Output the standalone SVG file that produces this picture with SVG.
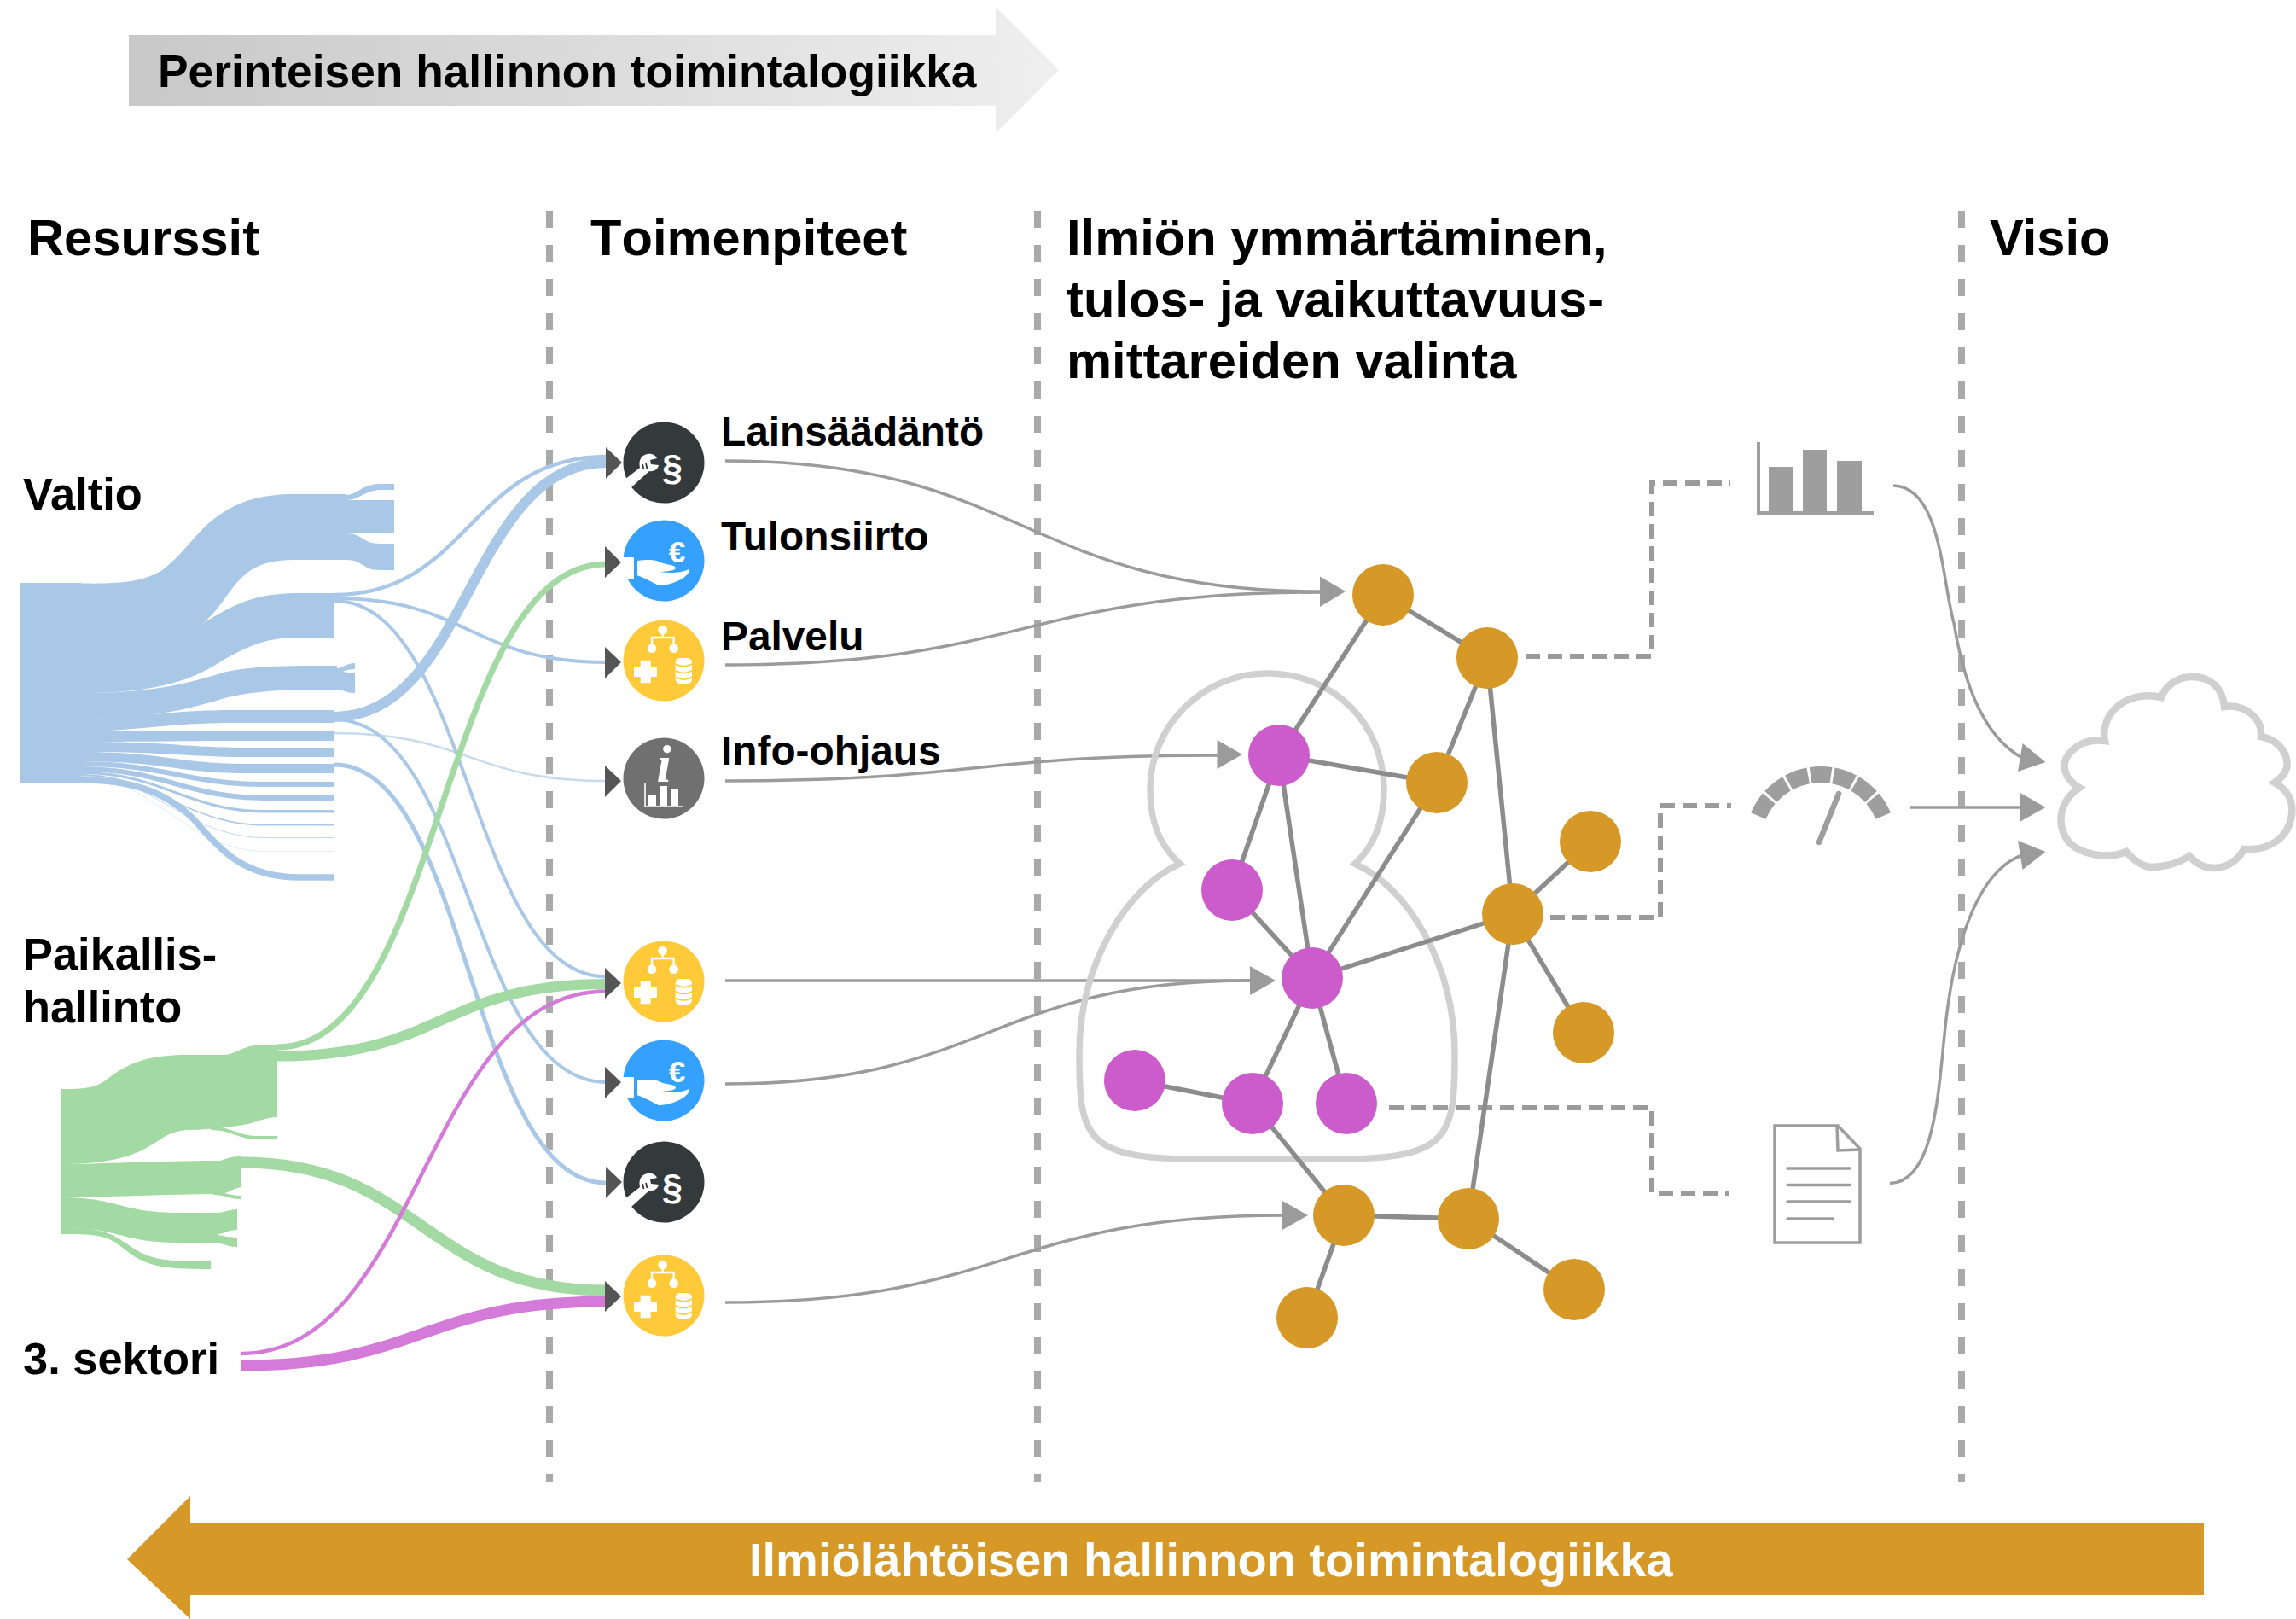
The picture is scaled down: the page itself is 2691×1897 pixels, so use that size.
<svg xmlns="http://www.w3.org/2000/svg" width="2691" height="1897" viewBox="0 0 2691 1897">
<style>
text{font-family:"Liberation Sans",Arial,sans-serif;font-weight:700;fill:#000}
.h{font-size:59.7px}.s{font-size:52.4px}.l{font-size:47.8px}
.vd{fill:none;stroke:#a9a9a9;stroke-width:8;stroke-dasharray:20 20}
.ds{fill:none;stroke:#9b9b9b;stroke-width:6;stroke-dasharray:17 9}
.b{fill:#a9c8e7}.g{fill:#a3d9a2}
.lk{fill:none}
.lb{stroke:#a9c8e7}.lg{stroke:#a3d9a2}.lp{stroke:#d47ad8}
.c{fill:none;stroke:#9b9b9b;stroke-width:3.5}
.ah{fill:#9b9b9b}.dk{fill:#555}
.e{stroke:#8c8c8c;stroke-width:5.5;fill:none}
.o{fill:#d69826}.m{fill:#cc5bcc}
.w{fill:#fff}.wl{stroke:#fff;fill:none}
.ic{fill:#9e9e9e}
</style>
<defs>
<linearGradient id="gr" x1="0" x2="1" y1="0" y2="0"><stop offset="0" stop-color="#c8c8c8"/><stop offset="1" stop-color="#efefef"/></linearGradient>
<g id="law">
<circle r="47.5" fill="#343a3c"/>
<path class="w" d="M-46,20 L-28,6 C-30,-3 -26,-9 -19,-10 C-14,-11 -10,-9 -8,-5 L-16,-3 L-15,2 L-6,3 C-7,8 -12,11 -17,10 L-38,29 Z"/>
<path d="M-25,2 l1.5,6 M-21,1 l1.5,6" stroke="#343a3c" stroke-width="1.8" fill="none"/>
<text x="10" y="20" text-anchor="middle" style="font-size:43px;fill:#fff">§</text>
</g>
<g id="money">
<circle r="47.5" fill="#35a1ff"/>
<rect x="-48" y="-4" width="13" height="25" class="w"/>
<g transform="scale(.3333) translate(-263,-530)">
<path class="w" d="M170,530 C200,525 230,525 250,535 C270,545 300,542 305,555 C305,567 270,567 250,570 C290,575 330,572 350,560 C356,575 335,590 315,600 C290,612 265,618 245,617 C220,605 195,590 170,582 Z"/>
</g>
<text x="15.5" y="1.5" text-anchor="middle" style="font-size:35px;fill:#fff">€</text>
</g>
<g id="serv">
<circle r="47.5" fill="#ffca3a"/>
<g transform="scale(.3333) translate(-263,-883)">
<circle class="w" cx="259" cy="775" r="16"/><circle class="w" cx="221" cy="840" r="16"/><circle class="w" cx="298" cy="840" r="16"/>
<path class="wl" stroke-width="7" d="M259,775 V802 M221,840 V802 H298 V840"/>
<path class="w" d="M181,882 H217 V904 H239 V940 H217 V962 H181 V940 H158 V904 H181 Z"/>
<rect class="w" x="304" y="874" width="58" height="90" rx="16"/>
<path d="M304,895 Q333,912 362,895 M304,918 Q333,935 362,918 M304,941 Q333,958 362,941" stroke="#ffca3a" stroke-width="5" fill="none"/>
</g>
</g>
</defs>

<g id="top-arrow"><path fill="url(#gr)" d="M151,41 H1167 V8 L1241,82 L1167,156 V124 H151 Z"/><text x="185" y="102" style="font-size:53.3px">Perinteisen hallinnon toimintalogiikka</text></g>
<g id="bottom-arrow"><path fill="#d69826" d="M2583,1785 V1869 H223 V1897 L149,1827 L223,1753 V1785 Z"/><text x="878" y="1847" style="font-size:56px;fill:#fff">Ilmiölähtöisen hallinnon toimintalogiikka</text></g>

<g id="headers">
<text class="h" x="32" y="299">Resurssit</text>
<text class="h" x="692" y="299" style="font-kerning:none">Toimenpiteet</text>
<text class="h" x="1250" y="299">Ilmiön ymmärtäminen,</text>
<text class="h" x="1250" y="371">tulos- ja vaikuttavuus-</text>
<text class="h" x="1250" y="443">mittareiden valinta</text>
<text class="h" x="2332" y="299">Visio</text>
<text class="s" x="27" y="597">Valtio</text>
<text class="s" x="27" y="1136">Paikallis-</text>
<text class="s" x="27" y="1198">hallinto</text>
<text class="s" x="27" y="1610">3. sektori</text>
</g>

<g id="dividers">
<path class="vd" d="M644,247 V1737"/><path class="vd" d="M1216,247 V1737"/><path class="vd" d="M2299,247 V1737"/>
</g>

<g id="sankey-valtio" class="b">
<path d="M24,683 H95 V918 H24 Z"/>
<path d="M95,683.5 C130,684 165,684 190,668 C215,650 232,620 255,605 C280,586 310,579 345,579 H406 V656 H345 C300,656 285,672 268,695 C245,728 225,746 195,753 C165,760 130,760 95,760 Z"/>
<path d="M406,580 C418,580 425,567 445,567 H462 V574 H445 C430,574 420,586 406,586 Z"/>
<rect x="400" y="586" width="62" height="39"/>
<path d="M406,625 C425,625 425,637 445,637 H462 V668 H445 C425,668 425,656 406,656 Z"/>
<path d="M95,760.5 C190,760 215,745 250,723 C285,703 305,695 356,695 H391.6 V747 H350 C310,747 290,758 262,773 C225,798 180,812 95,812 Z"/>
<path d="M95,812 C170,812 215,803 263,787.5 C300,780 330,780 395,780 V808 C340,808 305,808 263,818 C215,833 170,842 95,842 Z"/>
<path d="M395,783 C403,783 405,777 416,777 V784 C405,784 403,788 395,788 Z"/>
<path d="M395,784 C403,788 405,788 416,788 V812 C405,812 403,808 395,808 Z"/>
<path d="M95,842 C150,842 200,832 270,832 H391.6 V847 H270 C200,847 150,857 95,857 Z"/>
<path d="M95,857 C200,857 210,856 270,856 H391.6 V868 H270 C210,868 200,869 95,869 Z"/>
<path d="M95,869 C200,869 220,876 290,876 H391.6 V887 H290 C220,887 200,881 95,881 Z"/>
<path d="M95,881 C190,881 210,895 290,895 H391.6 V906 H290 C210,906 190,892 95,892 Z"/>
<path d="M95,892 C190,892 220,916 310,916 H391.6 V922 H310 C220,922 190,898 95,898 Z"/>
<path d="M95,898 C190,898 220,932 310,932 H391.6 V938 H310 C220,938 190,904 95,904 Z"/>
<path d="M95,904 C190,904 220,949 310,949 H391.6 V952.4 H310 C220,952.4 190,907 95,907 Z"/>
<path d="M95,907 C180,907 220,966 310,966 H391.6 V967.5 H310 C220,967.5 180,909 95,909 Z"/>
<path opacity=".7" d="M95,909 C180,909 220,981 310,981 H391.6 V982 H310 C220,982 180,910 95,910 Z"/>
<path opacity=".35" d="M95,910 C180,910 220,997 310,997 H391.6 V998 H310 C220,998 180,911 95,911 Z"/>
<path opacity=".15" d="M95,911 C180,911 220,1013 310,1013 H391.6 V1014 H310 C220,1014 180,911 95,911 Z"/>
<path fill="none" stroke="#a9c8e7" stroke-width="7.5" d="M95,914 C150,914 190,925 225,958 C255,990 280,1028 351,1028 H391.6"/>
</g>

<g id="sankey-paikallis" class="g">
<path d="M71,1276 C95,1276 110,1276 125,1265 C150,1245 175,1236 219,1236 H263 C275,1236 285,1224.5 305,1224.5 H325 V1309 C310,1309 300,1316 285,1318 C260,1322 235,1324 219,1324 C195,1326 190,1336 165,1348.5 C140,1360 110,1364 71,1364 Z"/>
<path d="M247,1320 C270,1320 280,1331 300,1331 H325 V1335 H300 C280,1335 270,1324 247,1324 Z"/>
<path d="M71,1364 C120,1364 180,1360 258,1360 C265,1358 270,1355 282,1355 V1391 C270,1394 265,1399 258,1399 C200,1399 120,1403 71,1403 Z"/>
<path d="M250,1397 C265,1397 270,1401 282,1401 V1405 C270,1405 265,1400 250,1400 Z"/>
<path d="M71,1403 C140,1403 140,1421 210,1421 H255 C262,1421 268,1417 278,1417 V1441 C268,1441 262,1446 255,1446 V1456 H210 C140,1456 140,1438 71,1438 Z"/>
<path d="M250,1447 C262,1447 265,1450 278,1450 V1461 C265,1461 262,1456 250,1456 Z"/>
<path d="M71,1438 C120,1438 130,1445 150,1458 C175,1478 200,1478 247,1478 V1487 C190,1487 170,1484 145,1463 C125,1446 110,1446 71,1446 Z"/>
</g>

<g id="connectors" class="lk">
<path class="lk lb" stroke-width="4.5" d="M391.6,697 C550,697 550,535 711,535"/>
<path class="lk lb" stroke-width="12" d="M391.6,840 C550,840 550,542 711,542"/>
<path class="lk lb" stroke-width="4" d="M391.6,701 C550,701 550,776 711,776"/>
<path class="lk lb" stroke-width="2.5" stroke-opacity=".65" d="M391.6,859 C550,859 550,915 711,915"/>
<path class="lk lb" stroke-width="4" d="M391.6,704 C550,704 550,1144.5 711,1144.5"/>
<path class="lk lb" stroke-width="4" d="M391.6,843 C550,843 550,1268 711,1268"/>
<path class="lk lb" stroke-width="5" d="M391.6,896 C550,896 550,1386 711,1386"/>
<path class="lk lg" stroke-width="7" d="M325,1227 C520,1227 515,661 711,661"/>
<path class="lk lg" stroke-width="12" d="M325,1237.5 C520,1237.5 515,1153 711,1153"/>
<path class="lk lg" stroke-width="13" d="M282,1362 C495,1362 495,1512 711,1512"/>
<path class="lk lp" stroke-width="4.5" d="M282,1586 C495,1586 495,1161.5 711,1161.5"/>
<path class="lk lp" stroke-width="13" d="M282,1600 C495,1600 495,1525 711,1525"/>
<path class="c" d="M850,540 C1200,540 1200,693 1547,693"/>
<path class="c" d="M850,779 C1200,779 1200,694 1547,694"/>
<path class="c" d="M850,915 C1140,915 1140,885 1427,885"/>
<path class="c" d="M850,1149 H1465"/>
<path class="c" d="M850,1270 C1160,1270 1160,1149 1465,1149"/>
<path class="c" d="M850,1526 C1180,1526 1180,1424 1503,1424"/>
<path class="c" d="M2219,569 C2275,570 2276,680 2290,730 C2300,790 2320,860 2370,888"/>
<path class="c" d="M2239,946 H2367"/>
<path class="c" d="M2215,1386.6 C2270,1385 2272,1270 2281,1194 C2292,1100 2320,1020 2370,1002"/>
<path class="ds" d="M1788,769 H1936 V566 H2028"/>
<path class="ds" d="M1817,1075 H1946 V944 H2029"/>
<path class="ds" d="M1628,1298 H1936 V1398 H2026"/>
<path class="ah" d="M1547,675.5 L1577,693 L1547,711 Z"/>
<path class="ah" d="M1426.5,867 L1456,884 L1426.5,901 Z"/>
<path class="ah" d="M1465,1132 L1495,1149 L1465,1166 Z"/>
<path class="ah" d="M1503,1407 L1533,1424 L1503,1441 Z"/>
<path class="ah" d="M2370.6,871 L2397.5,893 L2365,904 Z"/>
<path class="ah" d="M2367,928.5 L2397.5,946 L2367,963 Z"/>
<path class="ah" d="M2365,985 L2397.5,998 L2370.6,1019 Z"/>
<path class="dk" d="M710,524 L729,542 L710,561 Z"/>
<path class="dk" d="M709,640 L728,659 L709,677 Z"/>
<path class="dk" d="M709,758 L728,776 L709,795 Z"/>
<path class="dk" d="M709,897 L728,915 L709,934 Z"/>
<path class="dk" d="M709,1134 L728,1152 L709,1170 Z"/>
<path class="dk" d="M709,1250 L728,1268 L709,1287 Z"/>
<path class="dk" d="M710,1367 L729,1385 L710,1404 Z"/>
<path class="dk" d="M709,1501 L728,1519 L709,1537 Z"/>
</g>

<g id="n-c1" transform="translate(778,542)"><use href="#law"/></g>
<g id="n-c2" transform="translate(778,657)"><use href="#money"/></g>
<g id="n-c3" transform="translate(778,774)"><use href="#serv"/></g>
<g id="n-c4" transform="translate(778,912)"><circle r="47.5" fill="#707070"/>
<text x="0" y="4" text-anchor="middle" style="font-family:'Liberation Serif',serif;font-style:italic;font-size:62px;fill:#fff">i</text>
<path class="wl" stroke-width="1.6" d="M-22,6 V33 H22"/><path class="w" d="M-18,20 h9 v12 h-9 Z M-5,9 h9 v23 h-9 Z M8,13 h9 v19 h-9 Z"/></g>
<g id="n-c5" transform="translate(778,1150)"><use href="#serv"/></g>
<g id="n-c6" transform="translate(778,1266)"><use href="#money"/></g>
<g id="n-c7" transform="translate(778,1385)"><use href="#law"/></g>
<g id="n-c8" transform="translate(778,1518)"><use href="#serv"/></g>

<g id="labels">
<text class="l" x="845" y="522">Lainsäädäntö</text>
<text class="l" x="845" y="645">Tulonsiirto</text>
<text class="l" x="845" y="762">Palvelu</text>
<text class="l" x="845" y="896">Info-ohjaus</text>
</g>

<g id="n-person"><path fill="none" stroke="#d0d0d0" stroke-width="7.5" d="M1383,1012 C1360,992 1348,965 1348,925 C1348,850 1410,789 1485,789 C1565,789 1622,850 1622,925 C1622,965 1610,992 1588,1012 C1650,1040 1705,1130 1705,1235 C1705,1330 1700,1358 1570,1358 H1400 C1270,1358 1265,1330 1265,1235 C1265,1130 1320,1040 1383,1012 Z"/></g>

<g id="edges">
<path class="e" d="M1499,885 L1621,697 M1621,697 L1743,771 M1743,771 L1684,917 M1743,771 L1773,1071 M1499,885 L1684,917 M1499,885 L1444,1043 M1499,885 L1538,1146 M1444,1043 L1538,1146 M1684,917 L1538,1146 M1538,1146 L1773,1071 M1773,1071 L1864,986 M1773,1071 L1856,1210 M1773,1071 L1721,1428 M1538,1146 L1468,1293 M1538,1146 L1578,1293 M1330,1266 L1468,1293 M1468,1293 L1575,1424 M1575,1424 L1721,1428 M1721,1428 L1845,1511 M1575,1424 L1532,1544"/>
</g>
<g id="n-o1"><circle class="o" cx="1621" cy="697" r="36"/></g>
<g id="n-o2"><circle class="o" cx="1743" cy="771" r="36"/></g>
<g id="n-o3"><circle class="o" cx="1684" cy="917" r="36"/></g>
<g id="n-o4"><circle class="o" cx="1864" cy="986" r="36"/></g>
<g id="n-o5"><circle class="o" cx="1773" cy="1071" r="36"/></g>
<g id="n-o6"><circle class="o" cx="1856" cy="1210" r="36"/></g>
<g id="n-o7"><circle class="o" cx="1575" cy="1424" r="36"/></g>
<g id="n-o8"><circle class="o" cx="1721" cy="1428" r="36"/></g>
<g id="n-o9"><circle class="o" cx="1845" cy="1511" r="36"/></g>
<g id="n-o10"><circle class="o" cx="1532" cy="1544" r="36"/></g>
<g id="n-m1"><circle class="m" cx="1499" cy="885" r="36"/></g>
<g id="n-m2"><circle class="m" cx="1444" cy="1043" r="36"/></g>
<g id="n-m3"><circle class="m" cx="1538" cy="1146" r="36"/></g>
<g id="n-m4"><circle class="m" cx="1330" cy="1266" r="36"/></g>
<g id="n-m5"><circle class="m" cx="1468" cy="1293" r="36"/></g>
<g id="n-m6"><circle class="m" cx="1578" cy="1293" r="36"/></g>

<g id="n-chart">
<path class="ic" d="M2059,518 h4 v81 h133 v4 h-137 Z M2073,547 h29 v52 h-29 Z M2113,527 h28 v72 h-28 Z M2153,540 h29 v59 h-29 Z"/>
</g>
<g id="n-gauge">
<path fill="none" stroke="#9e9e9e" stroke-width="19" stroke-dasharray="24 3" d="M2060.8,956 A79.5,79.5 0 0 1 2207.2,956"/>
<path fill="none" stroke="#9e9e9e" stroke-width="6.5" stroke-linecap="round" d="M2132,987 L2155,930"/>
</g>
<g id="n-doc">
<path fill="#fff" stroke="#9e9e9e" stroke-width="3.5" d="M2080,1319 H2154 L2180,1346 V1456 H2080 Z M2153,1319 L2154,1348 L2180,1347"/>
<path fill="none" stroke="#9e9e9e" stroke-width="3.5" stroke-linecap="round" d="M2095,1369 H2168 M2095,1388.5 H2168 M2095,1408 H2168 M2095,1428 H2148"/>
</g>
<g id="n-cloud">
<path fill="#fff" stroke="#d0d0d0" stroke-width="8.5" d="M2437,923 C2418,912 2414,893 2428,880 C2438,870 2452,866 2467,868 C2461,838 2490,808 2533,817 C2540,800 2556,793 2569,793 C2590,793 2605,805 2607,828 C2632,825 2652,842 2650,863 C2672,867 2683,885 2680,900 C2678,907 2672,913 2666,917 C2682,926 2688,940 2686,955 C2682,982 2660,997 2630,995 C2622,1010 2608,1017 2595,1017 C2583,1017 2573,1011 2566,1003 C2550,1013 2535,1016 2520,1016 C2510,1015 2500,1007 2492,998 C2470,1007 2440,1002 2425,987 C2410,968 2412,940 2437,923 Z"/>
</g>
</svg>
